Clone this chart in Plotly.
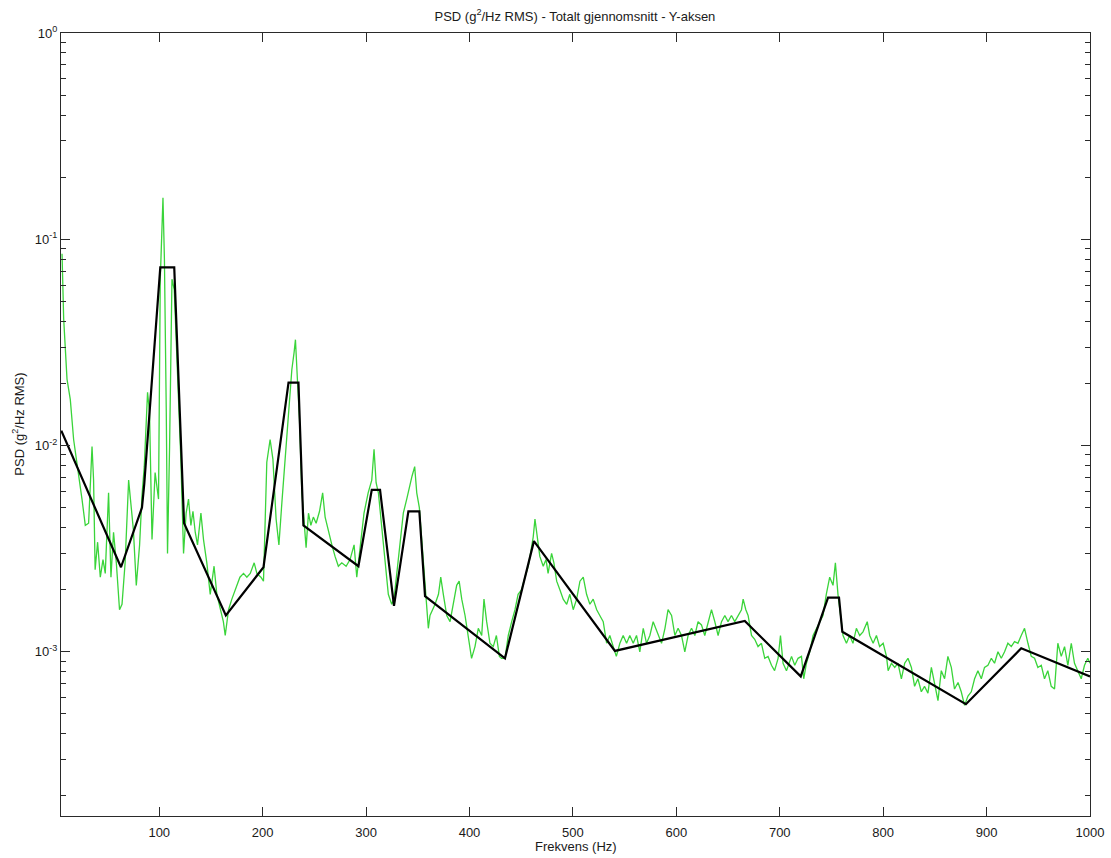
import plotly.graph_objects as go

# Averaged PSD spectrum (green) - frequency in Hz, PSD in g^2/Hz
green_f = [6, 7.6, 10.8, 14, 17.2, 22, 25.3, 28.5, 31.7, 35, 36.5, 38, 40.4, 43, 45.6, 47.8,
           51, 53.3, 55.8, 58.5, 61.6, 64, 67, 70.4, 72.7, 75, 77.8, 81, 83.3, 85.5, 88.7,
           90.6, 93, 96, 99.3, 101, 103.6, 105, 106.8, 108, 110, 112.3, 114.5, 117.7, 121,
           123.5, 126, 128.3, 130.6, 132.6, 134.8, 137, 140.3, 142.8, 146, 149.3, 153, 155.7,
           159, 162, 163.8, 167, 170.2, 175, 178, 181.5, 184.7, 188, 191.8, 194.4, 198.3,
           200.8, 204, 207.2, 209.9, 213, 215.7, 218.6, 221.7, 225, 228.2, 230.4, 231.7,
           233.6, 235.6, 237.9, 240, 242, 244.3, 246.6, 249, 251.7, 255, 258, 260.4, 263.6,
           266.9, 270, 273.2, 276.5, 280.7, 284.5, 288.4, 291, 294.2, 298, 302, 305.5, 307.7,
           309.7, 311.9, 315, 318.4, 321.5, 324.8, 327, 329.7, 333, 336, 339.3, 341.9, 344.4,
           347, 349, 351.5, 354.8, 358, 360.2, 361.8, 366.7, 370, 372.2, 374.7, 378, 381.2,
           384.4, 387.6, 390, 392.5, 395.7, 398.8, 402, 405.3, 408.5, 411.8, 414, 416.6, 419.8,
           423, 426, 428.9, 431, 434.3, 437.5, 440.8, 444, 447, 450.4, 453.6, 456.8, 459,
           461.6, 463.3, 465.5, 468, 471.3, 474, 476, 479.4, 481.6, 484.3, 487.4, 490.6, 494,
           497, 500.3, 503.6, 506.8, 510, 513.2, 516.4, 519.6, 523, 526, 529.3, 532.6, 535.7,
           539, 542, 545.4, 548.6, 551.9, 555, 558.3, 561.5, 564.7, 568, 571.2, 574.4, 577.6,
           582.4, 585.7, 589, 592, 595.4, 598.6, 601.7, 605, 608.2, 611.4, 614.7, 617.9, 621,
           624.3, 627.5, 630.7, 634, 637.2, 640.4, 643.7, 646.9, 650, 653.3, 656.5, 659.7, 663,
           664.6, 667.2, 669.4, 672.7, 675.8, 679, 682.3, 685.5, 688.7, 692, 695, 698.4, 700.7,
           703.2, 706.5, 711.4, 714.5, 717.7, 721, 723.2, 725.8, 729, 732.2, 735.5, 738.6,
           741.8, 745, 748.3, 751.5, 753.8, 756.3, 759, 761.2, 764.5, 767.6, 770.8, 774.1,
           777.3, 780.5, 784.6, 787, 790.3, 793.5, 796.6, 800, 803.2, 804.8, 808, 811.2, 814.3,
           817.6, 820.8, 824, 827.3, 830.4, 833.6, 836.9, 840, 843.3, 846.6, 849.8, 853, 856.2,
           859.4, 862.6, 865.9, 869, 872.4, 875.5, 878.7, 882, 885.2, 888.4, 891.6, 894.9, 898,
           901.3, 904.6, 907.7, 911, 914.2, 917.4, 920.6, 923.9, 927, 930.3, 933.5, 936.7, 940,
           943.2, 946.4, 949.6, 952.9, 956, 959.2, 962.5, 965.7, 968.9, 972.2, 975.4, 978.6,
           981.9, 985, 988.2, 991.5, 994.7, 997.9, 1000]
green_psd = [0.085, 0.041, 0.021, 0.0167, 0.0107, 0.0074, 0.0055, 0.0041, 0.0042, 0.0099, 0.0068,
             0.0025, 0.0034, 0.0023, 0.0028, 0.0024, 0.0059, 0.0023, 0.0038, 0.0027, 0.0016,
             0.0017, 0.0027, 0.0068, 0.0050, 0.0039, 0.0021, 0.0033, 0.0057, 0.0079, 0.0181,
             0.0145, 0.0035, 0.0074, 0.0055, 0.064, 0.159, 0.080, 0.0145, 0.0030, 0.0099, 0.064,
             0.057, 0.021, 0.0083, 0.0030, 0.0047, 0.0055, 0.0041, 0.0048, 0.0038, 0.0033,
             0.0047, 0.0035, 0.0027, 0.0019, 0.0026, 0.0019, 0.0016, 0.0014, 0.0012, 0.0016,
             0.0018, 0.0021, 0.0023, 0.0024, 0.0023, 0.0024, 0.0027, 0.0024, 0.0023, 0.0022,
             0.0083, 0.0107, 0.0086, 0.0044, 0.0033, 0.0053, 0.0083, 0.0134, 0.0233, 0.0283,
             0.0326, 0.0209, 0.0134, 0.0059, 0.0044, 0.0032, 0.0047, 0.0041, 0.0045, 0.0042,
             0.0048, 0.0059, 0.0045, 0.0038, 0.0033, 0.0029, 0.0026, 0.0027, 0.0026, 0.0028,
             0.0033, 0.0023, 0.0033, 0.0047, 0.0059, 0.0068, 0.0096, 0.0066, 0.0059, 0.0041,
             0.0028, 0.0019, 0.0017, 0.0018, 0.0024, 0.0033, 0.0047, 0.0055, 0.0063, 0.0071,
             0.0079, 0.0059, 0.0050, 0.0030, 0.0019, 0.0013, 0.0015, 0.0017, 0.0019, 0.0023,
             0.0019, 0.0015, 0.0014, 0.0017, 0.0021, 0.0022, 0.0018, 0.0015, 0.0012, 0.00093,
             0.00106, 0.0013, 0.0012, 0.0018, 0.0014, 0.0011, 0.00106, 0.0012, 0.00095, 0.00093,
             0.00093, 0.0012, 0.0014, 0.0016, 0.0019, 0.0020, 0.0023, 0.0026, 0.0030, 0.0036,
             0.0044, 0.0036, 0.0029, 0.0026, 0.0028, 0.0024, 0.0030, 0.0027, 0.0022, 0.0020,
             0.0018, 0.0017, 0.0019, 0.0016, 0.0018, 0.0022, 0.0023, 0.0019, 0.0017, 0.0018,
             0.0016, 0.0015, 0.0014, 0.0011, 0.0012, 0.00106, 0.00095, 0.0011, 0.0012, 0.0011,
             0.0012, 0.0011, 0.0012, 0.0010, 0.0013, 0.0011, 0.0012, 0.0014, 0.0012, 0.0011,
             0.0013, 0.0016, 0.0015, 0.0012, 0.0013, 0.0012, 0.0010, 0.0012, 0.0013, 0.0012,
             0.0014, 0.00135, 0.0012, 0.0014, 0.0016, 0.0014, 0.0012, 0.0014, 0.0015, 0.0014,
             0.0015, 0.0014, 0.0015, 0.0016, 0.0018, 0.0016, 0.0015, 0.0012, 0.00115, 0.00106,
             0.0011, 0.00093, 0.00095, 0.00086, 0.00081, 0.00093, 0.0012, 0.00088, 0.00081,
             0.00095, 0.00086, 0.00093, 0.00095, 0.00074, 0.00088, 0.0010, 0.0012, 0.0013,
             0.0014, 0.0015, 0.0019, 0.0023, 0.0021, 0.0027, 0.0019, 0.0015, 0.0012, 0.0011,
             0.0012, 0.0011, 0.0013, 0.0012, 0.00125, 0.0014, 0.0012, 0.0011, 0.0012, 0.00106,
             0.0011, 0.00095, 0.00081, 0.00088, 0.00084, 0.00088, 0.00074, 0.00088, 0.00093,
             0.00084, 0.00068, 0.00074, 0.00064, 0.00068, 0.00063, 0.00084, 0.00071, 0.00058,
             0.00081, 0.00074, 0.00095, 0.00084, 0.00066, 0.00071, 0.00064, 0.00055, 0.00061,
             0.00064, 0.00074, 0.00081, 0.00074, 0.00084, 0.00086, 0.00093, 0.00088, 0.0010,
             0.00093, 0.0010, 0.0011, 0.00106, 0.00112, 0.0011, 0.0012, 0.0013, 0.0011, 0.00095,
             0.00093, 0.00084, 0.00086, 0.00074, 0.00081, 0.00068, 0.00066, 0.0011, 0.00095,
             0.00106, 0.00086, 0.0011, 0.00088, 0.00081, 0.00074, 0.00086, 0.00093, 0.00088]

# Test profile breakpoints (black)
profile_f = [5.3, 63, 83.3, 85.5, 101, 114.5, 124, 164.4, 200.8, 225, 234.6, 239.4, 292.6,
             305.5, 313.5, 327, 340.9, 351.5, 357, 434.3, 462.3, 540.6, 666.2, 720.3, 746.7,
             757.3, 760.5, 880, 933.5, 1000]
profile_psd = [0.0118, 0.00257, 0.0050, 0.0065, 0.073, 0.073, 0.0042, 0.0015, 0.00257, 0.0202,
               0.0202, 0.0041, 0.0026, 0.0061, 0.0061, 0.00167, 0.0048, 0.0048, 0.00186,
               0.00093, 0.00344, 0.00101, 0.00141, 0.00076, 0.00183, 0.00183, 0.00125,
               0.000557, 0.00104, 0.00076]

x_ticks = [100, 200, 300, 400, 500, 600, 700, 800, 900, 1000]
y_ticks = [1e-3, 1e-2, 1e-1, 1e0]
y_tick_text = ["10<sup>-3</sup>", "10<sup>-2</sup>", "10<sup>-1</sup>", "10<sup>0</sup>"]
y_minor = [m * 10.0 ** e for e in (-4, -3, -2, -1) for m in range(2, 10) if m * 10.0 ** e > 1.6e-4]

font = dict(family="Liberation Sans, Arial, sans-serif", size=13, color="#1a1a1a")
axis_col = "#2a2a2a"

fig = go.Figure()
fig.add_trace(go.Scatter(x=green_f, y=green_psd, mode="lines",
                         line=dict(color="#3ad43a", width=1.3), showlegend=False))
fig.add_trace(go.Scatter(x=profile_f, y=profile_psd, mode="lines",
                         line=dict(color="black", width=2.2), showlegend=False))

fig.update_layout(
    width=1111, height=858,
    margin=dict(l=61, r=21, t=33, b=42, autoexpand=False),
    paper_bgcolor="white", plot_bgcolor="white",
    font=font,
    title=dict(text="PSD (g<sup>2</sup>/Hz RMS) - Totalt gjennomsnitt - Y-aksen",
               x=0.5175, xanchor="center", y=0.981, yanchor="middle",
               font=dict(size=13, color="#1a1a1a")),
    annotations=[
        dict(text="Frekvens (Hz)", xref="paper", yref="paper", x=0.5, y=-0.0385,
             xanchor="center", yanchor="middle", showarrow=False, font=dict(size=13)),
        dict(text="PSD (g<sup>2</sup>/Hz RMS)", xref="paper", yref="paper", x=-0.0418, y=0.501,
             xanchor="center", yanchor="middle", textangle=-90, showarrow=False,
             font=dict(size=13)),
    ],
)
fig.update_xaxes(
    range=[5, 1000], tickvals=x_ticks, ticks="inside", ticklen=9, tickwidth=1,
    tickcolor=axis_col, showline=True, linecolor=axis_col, linewidth=1, mirror="ticks",
    showgrid=False, zeroline=False, automargin=False, ticklabelstandoff=4,
)
fig.update_yaxes(
    type="log", range=[-3.796, 0], tickvals=y_ticks, ticktext=y_tick_text,
    ticks="inside", ticklen=9, tickwidth=1, tickcolor=axis_col,
    showline=True, linecolor=axis_col, linewidth=1, mirror="ticks",
    showgrid=False, zeroline=False, automargin=False,
    minor=dict(tickvals=y_minor, ticks="inside", ticklen=5, tickcolor=axis_col, showgrid=False),
)

fig.write_html("out.html")
